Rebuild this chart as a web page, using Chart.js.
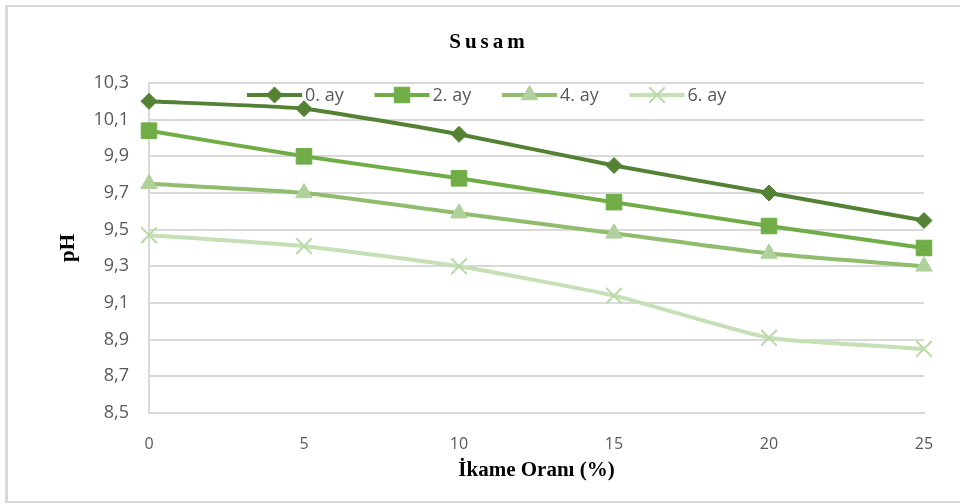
<!DOCTYPE html>
<html>
<head>
  <meta charset="UTF-8">
  <title>Susam pH</title>
  <script src="https://cdn.jsdelivr.net/npm/chart.js"></script>
  <style>
    body {
      margin: 0;
      background: #fff;
    }

    #wrap {
      position: relative;
      width: 960px;
      height: 504px;
      overflow: hidden;
    }

    #frame {
      position: absolute;
      left: 5px;
      top: 5px;
      width: 1000px;
      height: 494px;
      border: 2px solid #d9d9d9;
      border-left-width: 3px;
      pointer-events: none;
    }
  </style>
</head>
<body>
  <div id="wrap">
    <canvas id="chart" width="960" height="504"></canvas>
    <div id="frame"></div>
  </div>

  <script>
    const chartTitle = "Susam";
    const xTitle = "İkame Oranı (%)";
    const yTitle = "pH";
    const ratios = [0, 5, 10, 15, 20, 25];
    const seriesNames = ["0. ay", "2. ay", "4. ay", "6. ay"];
    const month0 = [10.20, 10.16, 10.02, 9.85, 9.70, 9.55];
    const month2 = [10.04, 9.90, 9.78, 9.65, 9.52, 9.40];
    const month4 = [9.75, 9.70, 9.59, 9.48, 9.37, 9.30];
    const month6 = [9.47, 9.41, 9.30, 9.14, 8.91, 8.85];

    const lineColors = ["#548235", "#70ad47", "#8fbd6d", "#c5e0b4"];
    const markerColors = ["#548235", "#70ad47", "#b0d19b", "#b9d9a6"];
    const markers = ["rectRot", "rect", "triangle", "crossRot"];
    const markerSizes = [8, 11, 9.5, 11];

    const allValues = [month0, month2, month4, month6];

    const datasets = allValues.map((vals, i) => ({
      label: seriesNames[i],
      data: vals.map((v, j) => ({ x: ratios[j], y: v })),
      borderColor: lineColors[i],
      backgroundColor: markerColors[i],
      pointBorderColor: markerColors[i],
      pointBackgroundColor: markerColors[i],
      pointStyle: markers[i],
      pointRadius: markerSizes[i],
      pointHoverRadius: markerSizes[i],
      pointBorderWidth: i === 3 ? 2 : 1,
      borderWidth: 4,
      tension: 0.15,
      clip: false,
      order: 4 - i
    }));

    // title and legend drawn by hand so they can sit like the original
    const decorations = {
      id: "decorations",
      afterDraw(chart) {
        const ctx = chart.ctx;
        ctx.save();
        ctx.fillStyle = "#000";
        ctx.font = "bold 21px 'Liberation Serif', 'Times New Roman', serif";
        ctx.letterSpacing = "4px";
        ctx.textAlign = "center";
        ctx.textBaseline = "middle";
        ctx.fillText(chartTitle, 489, 43);
        ctx.letterSpacing = "0px";

        const area = chart.chartArea;
        const startX = 247;
        const step = 127.5;
        const ly = area.top + 12;
        ctx.font = "18px 'Open Sans', sans-serif";
        ctx.textAlign = "left";
        chart.data.datasets.forEach((ds, i) => {
          const x0 = startX + i * step;
          ctx.strokeStyle = ds.borderColor;
          ctx.lineWidth = 4;
          ctx.beginPath();
          ctx.moveTo(x0, ly);
          ctx.lineTo(x0 + 55, ly);
          ctx.stroke();
          ctx.fillStyle = ds.pointBackgroundColor;
          ctx.strokeStyle = ds.pointBorderColor;
          ctx.lineWidth = ds.pointBorderWidth;
          Chart.helpers.drawPoint(ctx, {
            pointStyle: ds.pointStyle,
            radius: ds.pointRadius,
            rotation: 0,
            borderWidth: ds.pointBorderWidth
          }, x0 + 27.5, ly);
          ctx.fillStyle = "#595959";
          ctx.fillText(ds.label, x0 + 58, ly + 1);
        });
        ctx.restore();
      }
    };

    new Chart(document.getElementById("chart"), {
      type: "line",
      data: { datasets: datasets },
      options: {
        responsive: false,
        animation: false,
        layout: {
          padding: { top: 83, right: 36, left: 0, bottom: 0 }
        },
        plugins: {
          legend: { display: false },
          title: { display: false },
          tooltip: { enabled: false }
        },
        scales: {
          x: {
            type: "linear",
            min: 0,
            max: 25,
            afterBuildTicks(scale) {
              scale.ticks = ratios.map(v => ({ value: v }));
            },
            afterFit(scale) {
              scale.height = 91;
            },
            grid: { display: false },
            border: { color: "#d9d9d9", width: 2 },
            ticks: {
              color: "#595959",
              padding: 14,
              font: { family: "'Open Sans', sans-serif", size: 16 }
            },
            title: {
              display: true,
              text: xTitle,
              color: "#000",
              padding: { top: 4, bottom: 21 },
              font: { family: "'Liberation Serif', 'Times New Roman', serif", size: 21, weight: "bold" }
            }
          },
          y: {
            min: 8.5,
            max: 10.3,
            afterFit(scale) {
              scale.width = 149;
            },
            ticks: {
              stepSize: 0.2,
              color: "#595959",
              padding: 20,
              font: { family: "'Open Sans', sans-serif", size: 18 },
              callback: v => v.toFixed(1).replace(".", ",")
            },
            grid: { color: "#d9d9d9", lineWidth: 2, drawTicks: false },
            border: { color: "#d9d9d9", width: 2 },
            title: {
              display: true,
              text: yTitle,
              color: "#000",
              padding: { top: 56, bottom: 0 },
              font: { family: "'Liberation Serif', 'Times New Roman', serif", size: 21, weight: "bold" }
            }
          }
        }
      },
      plugins: [decorations]
    });
  </script>
</body>
</html>
